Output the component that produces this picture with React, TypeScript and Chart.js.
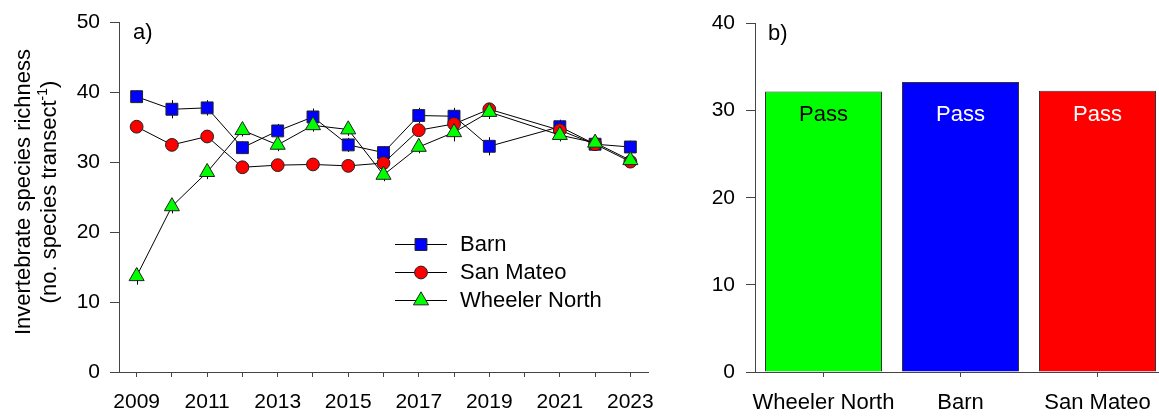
import React, { useEffect, useRef } from 'react';
import { Chart, registerables } from 'chart.js';

Chart.register(...registerables);

// ---------- data ----------
const years = [2009, 2010, 2011, 2012, 2013, 2014, 2015, 2016, 2017, 2018, 2019, 2021, 2022, 2023];
const barn = [39.4, 37.6, 37.8, 32.1, 34.5, 36.5, 32.5, 31.4, 36.7, 36.6, 32.3, 35.1, 32.6, 32.2];
const sanMateo = [35.1, 32.5, 33.7, 29.3, 29.6, 29.7, 29.5, 29.9, 34.6, 35.5, 37.6, 34.6, 32.6, 30.1];
const wheelerNorth = [13.7, 23.7, 28.6, 34.6, 32.5, 35.3, 34.7, 28.2, 32.2, 34.3, 37.2, 33.9, 32.8, 30.3];
const barnErr = [0.9, 1.3, 1.1, 0.9, 1.0, 1.2, 1.0, 0.9, 1.1, 1.2, 1.3, 1.0, 0.8, 0.9];
const sanMateoErr = [0.7, 0.8, 0.8, 0.7, 0.7, 0.7, 0.7, 0.8, 0.9, 0.9, 0.9, 0.8, 0.7, 0.7];
const wheelerNorthErr = [1.2, 1.0, 1.0, 0.9, 0.9, 0.9, 0.9, 0.9, 0.9, 1.3, 1.0, 0.9, 0.8, 0.8];

const yearTicks = [2009, 2010, 2011, 2012, 2013, 2014, 2015, 2016, 2017, 2018, 2019, 2020, 2021, 2022, 2023];
const yearTickLabels = ['2009', '', '2011', '', '2013', '', '2015', '', '2017', '', '2019', '', '2021', '', '2023'];

const siteNames = ['Wheeler North', 'Barn', 'San Mateo'];
const siteMeans = [32.2, 33.3, 32.3];
const siteStatus = ['Pass', 'Pass', 'Pass'];

const seriesNames = ['Barn', 'San Mateo', 'Wheeler North'];

// ---------- styles ----------
const FONT = '"Liberation Sans", Arial, Helvetica, sans-serif';
const AX = '#444444';
const MARK_BORDER = '#222222';
const BLUE = '#0000ff';
const RED = '#ff0000';
const GREEN = '#00ff00';
const passTextColors = ['#000000', '#ffffff', '#ffffff'];
const PASS_LABEL_VALUE = 28.8;

function drawMarker(ctx: CanvasRenderingContext2D, style: string, x: number, y: number, r: number, fill: string) {
  ctx.save();
  ctx.beginPath();
  if (style === 'rect') {
    const s = Math.SQRT1_2 * r;
    ctx.rect(x - s, y - s, 2 * s, 2 * s);
  } else if (style === 'circle') {
    ctx.arc(x, y, r, 0, Math.PI * 2);
  } else {
    let rad = 0;
    ctx.moveTo(x + Math.sin(rad) * r, y - Math.cos(rad) * r);
    rad += (2 * Math.PI) / 3;
    ctx.lineTo(x + Math.sin(rad) * r, y - Math.cos(rad) * r);
    rad += (2 * Math.PI) / 3;
    ctx.lineTo(x + Math.sin(rad) * r, y - Math.cos(rad) * r);
    ctx.closePath();
  }
  ctx.fillStyle = fill;
  ctx.fill();
  ctx.lineWidth = 1;
  ctx.strokeStyle = MARK_BORDER;
  ctx.stroke();
  ctx.restore();
}

const errorBarPlugin = {
  id: 'errorBars',
  beforeDatasetsDraw(chart: any) {
    const ctx = chart.ctx;
    const ys = chart.scales.y;
    const xs = chart.scales.x;
    const sets = [
      { v: barn, e: barnErr },
      { v: sanMateo, e: sanMateoErr },
      { v: wheelerNorth, e: wheelerNorthErr },
    ];
    ctx.save();
    ctx.strokeStyle = '#000';
    ctx.lineWidth = 1;
    sets.forEach((s) => {
      years.forEach((yr, i) => {
        const px = Math.round(xs.getPixelForValue(yr)) + 0.5;
        ctx.beginPath();
        ctx.moveTo(px, ys.getPixelForValue(s.v[i] - s.e[i]));
        ctx.lineTo(px, ys.getPixelForValue(s.v[i] + s.e[i]));
        ctx.stroke();
      });
    });
    ctx.restore();
  },
};

const leftDecorPlugin = {
  id: 'leftDecor',
  afterDraw(chart: any) {
    const ctx = chart.ctx as CanvasRenderingContext2D;
    ctx.save();
    // panel label
    ctx.fillStyle = '#000';
    ctx.font = `22px ${FONT}`;
    ctx.textAlign = 'left';
    ctx.textBaseline = 'alphabetic';
    ctx.fillText('a)', 133, 39);

    // y title
    const cy = 192;
    ctx.save();
    ctx.translate(30, cy);
    ctx.rotate(-Math.PI / 2);
    ctx.textAlign = 'center';
    ctx.fillText('Invertebrate species richness', 0, 0);
    ctx.restore();

    ctx.save();
    ctx.translate(56, cy);
    ctx.rotate(-Math.PI / 2);
    ctx.textAlign = 'left';
    const p1 = '(no. species transect';
    const p2 = '-1';
    const p3 = ')';
    ctx.font = `22px ${FONT}`;
    const w1 = ctx.measureText(p1).width;
    const w3 = ctx.measureText(p3).width;
    ctx.font = `14px ${FONT}`;
    const w2 = ctx.measureText(p2).width;
    const total = w1 + w2 + w3;
    let x0 = -total / 2;
    ctx.font = `22px ${FONT}`;
    ctx.fillText(p1, x0, 0);
    x0 += w1;
    ctx.font = `14px ${FONT}`;
    ctx.fillText(p2, x0, -9);
    x0 += w2;
    ctx.font = `22px ${FONT}`;
    ctx.fillText(p3, x0, 0);
    ctx.restore();

    // legend
    const rows = [
      { name: seriesNames[0], style: 'rect', r: 8.4, fill: BLUE, y: 244 },
      { name: seriesNames[1], style: 'circle', r: 6.4, fill: RED, y: 272 },
      { name: seriesNames[2], style: 'triangle', r: 8.7, fill: GREEN, y: 300 },
    ];
    rows.forEach((row) => {
      ctx.beginPath();
      ctx.strokeStyle = '#000';
      ctx.lineWidth = 1;
      ctx.moveTo(395, row.y + 0.5);
      ctx.lineTo(447, row.y + 0.5);
      ctx.stroke();
      drawMarker(ctx, row.style, 421, row.y + 0.5, row.r, row.fill);
      ctx.fillStyle = '#000';
      ctx.font = `22px ${FONT}`;
      ctx.textAlign = 'left';
      ctx.textBaseline = 'middle';
      ctx.fillText(row.name, 460, row.y + 1);
    });
    ctx.restore();
  },
};

const rightDecorPlugin = {
  id: 'rightDecor',
  afterDatasetsDraw(chart: any) {
    const ctx = chart.ctx as CanvasRenderingContext2D;
    const meta = chart.getDatasetMeta(0);
    const ys = chart.scales.y;
    ctx.save();
    ctx.font = `22px ${FONT}`;
    ctx.textAlign = 'center';
    ctx.textBaseline = 'alphabetic';
    meta.data.forEach((bar: any, i: number) => {
      ctx.fillStyle = passTextColors[i];
      ctx.fillText(siteStatus[i], bar.x, ys.getPixelForValue(PASS_LABEL_VALUE));
    });
    ctx.fillStyle = '#000';
    ctx.textAlign = 'left';
    ctx.fillText('b)', 108, 40);
    ctx.restore();
  },
};

export default function App() {
  const leftRef = useRef<HTMLCanvasElement | null>(null);
  const rightRef = useRef<HTMLCanvasElement | null>(null);

  useEffect(() => {
    const tickFont = { family: FONT, size: 21 };
    const pts = (vals: number[]) => years.map((x, i) => ({ x, y: vals[i] }));
    const common = {
      borderColor: '#000',
      borderWidth: 1,
      pointBorderColor: MARK_BORDER,
      pointBorderWidth: 1,
      tension: 0,
      showLine: true,
      fill: false,
    };
    const left = new Chart(leftRef.current as HTMLCanvasElement, {
      type: 'line',
      data: {
        datasets: [
          { ...common, label: seriesNames[2], data: pts(wheelerNorth), order: 1, pointStyle: 'triangle', pointRadius: 8.7, pointBackgroundColor: GREEN, backgroundColor: GREEN },
          { ...common, label: seriesNames[1], data: pts(sanMateo), order: 2, pointStyle: 'circle', pointRadius: 6.4, pointBackgroundColor: RED, backgroundColor: RED },
          { ...common, label: seriesNames[0], data: pts(barn), order: 3, pointStyle: 'rect', pointRadius: 8.4, pointBackgroundColor: BLUE, backgroundColor: BLUE },
        ] as any,
      },
      options: {
        animation: false,
        responsive: false,
        events: [],
        layout: { padding: { top: 17, right: 52, left: 0, bottom: 0 } },
        plugins: { legend: { display: false }, tooltip: { enabled: false } },
        scales: {
          x: {
            type: 'linear',
            min: 2008.5,
            max: 2023.5,
            afterBuildTicks: (s: any) => {
              s.ticks = yearTicks.map((v) => ({ value: v }));
            },
            afterFit: (s: any) => {
              s.height = 44;
            },
            grid: { drawOnChartArea: false, drawTicks: true, tickLength: 5, color: AX },
            border: { display: true, color: AX, width: 1 },
            ticks: {
              autoSkip: false,
              maxRotation: 0,
              padding: 13,
              color: '#000',
              font: tickFont,
              callback: (_v: any, i: number) => yearTickLabels[i],
            },
          },
          y: {
            min: 0,
            max: 50,
            afterFit: (s: any) => {
              s.width = 119;
            },
            grid: { drawOnChartArea: false, drawTicks: true, tickLength: 9, color: AX },
            border: { display: true, color: AX, width: 1 },
            ticks: { stepSize: 10, padding: 10, color: '#000', font: tickFont },
          },
        },
      } as any,
      plugins: [errorBarPlugin, leftDecorPlugin],
    });

    const right = new Chart(rightRef.current as HTMLCanvasElement, {
      type: 'bar',
      data: {
        labels: siteNames,
        datasets: [
          {
            data: siteMeans,
            backgroundColor: [GREEN, BLUE, RED],
            borderColor: '#333333',
            borderWidth: 1,
            borderSkipped: 'bottom',
            barPercentage: 0.854,
            categoryPercentage: 1,
          },
        ],
      },
      options: {
        animation: false,
        responsive: false,
        events: [],
        layout: { padding: { top: 17, right: 14, left: 0, bottom: 0 } },
        plugins: { legend: { display: false }, tooltip: { enabled: false } },
        scales: {
          x: {
            afterFit: (s: any) => {
              s.height = 44;
            },
            grid: { offset: false, drawOnChartArea: false, drawTicks: true, tickLength: 5, color: AX },
            border: { display: true, color: AX, width: 1 },
            ticks: { autoSkip: false, maxRotation: 0, minRotation: 0, padding: 13, color: '#000', font: { family: FONT, size: 22 } },
          },
          y: {
            min: 0,
            max: 40,
            afterFit: (s: any) => {
              s.width = 95;
            },
            grid: { drawOnChartArea: false, drawTicks: true, tickLength: 9, color: AX },
            border: { display: true, color: AX, width: 1 },
            ticks: { stepSize: 10, padding: 11, color: '#000', font: tickFont },
          },
        },
      } as any,
      plugins: [rightDecorPlugin],
    });

    return () => {
      left.destroy();
      right.destroy();
    };
  }, []);

  return (
    <div
      style={{
        position: 'fixed',
        left: 0,
        top: 0,
        width: 1159,
        height: 416,
        overflow: 'hidden',
        background: '#ffffff',
      }}
    >
      <canvas ref={leftRef} width={700} height={416} style={{ position: 'absolute', left: 0, top: 0, width: 700, height: 416 }} />
      <canvas ref={rightRef} width={520} height={416} style={{ position: 'absolute', left: 660, top: 0, width: 520, height: 416 }} />
    </div>
  );
}
